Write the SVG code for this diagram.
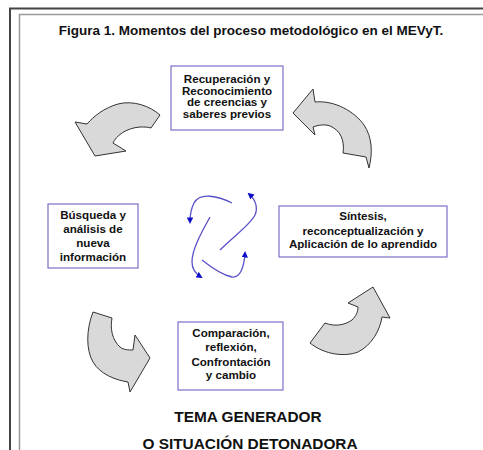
<svg xmlns="http://www.w3.org/2000/svg" width="483" height="450" viewBox="0 0 483 450">
<defs>
<style>
.t{font-family:"Liberation Sans",Arial,sans-serif;font-weight:bold;fill:#111;text-anchor:middle}
.box{fill:#fff;stroke:#7b70cc;stroke-width:1.2}
.lbl{font-size:11.6px}
.big{font-size:15.4px}
.carrow{fill:#d9d9d9;stroke:#333;stroke-width:1;stroke-linejoin:miter}
.blue{fill:none;stroke:#5a50c8;stroke-width:1.3;marker-end:url(#bh)}
</style>
<marker id="bh" viewBox="0 0 10 10" refX="7" refY="5" markerWidth="6.5" markerHeight="6.5" markerUnits="userSpaceOnUse" orient="auto">
<path d="M0,0 L10,5 L0,10 Z" fill="#1010c8"/>
</marker>
</defs>
<rect width="483" height="450" fill="#fff"/>
<g id="frame" fill="none">
<path d="M10,450 L10,8.5 L483,8.5" stroke="#444" stroke-width="2"/>
<path d="M19.5,450 L19.5,14.5 L483,14.5" stroke="#999" stroke-width="1.5"/>
</g>
<text id="title" class="t" x="251" y="35" font-size="13.5">Figura 1. Momentos del proceso metodológico en el MEVyT.</text>
<g id="connectors">
<path class="carrow" d="M160,115 C150,106 133,100 118,104 C104,108 94,116 87,124 L75,122 L95,156 L126,151 L113,143 C116,136 126,128 140,127 C145,127 148,127 151,128 Z"/>
<path class="carrow" d="M293,113 L313,89 L315,102 C335,100 355,112 364,125 C372,137 373,152 369,168 L366,157 L343,153 C345,140 340,130 330,126 C325,124 318,125 313,127 L315,135 Z"/>
<path class="carrow" d="M93,312 L112,318 C110,328 112,340 120,347 C124,350 128,350 133,350 L135,335 L150,358 L130,392 L128,382 C115,380 100,374 93,362 C86,350 86,330 93,312 Z"/>
<path class="carrow" d="M310,343 L325,323 C335,327 345,325 352,320 C356,316 358,312 358,307 L348,303 L373,287 L390,318 L382,317 C380,330 372,345 358,352 C345,357 325,355 310,343 Z"/>
<path class="blue" d="M232,203 C218,196 200,192 194,203 C191,209 190,214 190,222"/>
<path class="blue" d="M220,250 C235,235 250,225 255,215 C258,208 256,200 249,194"/>
<path class="blue" d="M210,217 C200,235 192,250 192,262 C192,270 196,274 201,277"/>
<path class="blue" d="M202,260 C212,268 222,275 232,277 C240,278 244,268 245,253"/>
</g>
<g id="node-recuperacion">
<rect class="box" x="171" y="66" width="112" height="64"/>
<text class="t lbl" x="227" y="83">Recuperación y</text>
<text class="t lbl" x="227" y="94.5">Reconocimiento</text>
<text class="t lbl" x="227" y="106">de creencias y</text>
<text class="t lbl" x="227" y="117.5">saberes previos</text>
</g>
<g id="node-busqueda">
<rect class="box" x="48" y="204" width="90" height="64"/>
<text class="t lbl" x="93" y="219">Búsqueda y</text>
<text class="t lbl" x="93" y="233">análisis de</text>
<text class="t lbl" x="93" y="247">nueva</text>
<text class="t lbl" x="93" y="261">información</text>
</g>
<g id="node-sintesis">
<rect class="box" x="279" y="206" width="168" height="51"/>
<text class="t lbl" x="363" y="220">Síntesis,</text>
<text class="t lbl" x="363" y="234.5">reconceptualización y</text>
<text class="t lbl" x="363" y="248">Aplicación de lo aprendido</text>
</g>
<g id="node-comparacion">
<rect class="box" x="178" y="322" width="105" height="68"/>
<text class="t lbl" x="231" y="337">Comparación,</text>
<text class="t lbl" x="231" y="351">reflexión,</text>
<text class="t lbl" x="231" y="365.5">Confrontación</text>
<text class="t lbl" x="231" y="379">y cambio</text>
</g>
<g id="node-tema">
<text class="t big" x="248" y="422">TEMA GENERADOR</text>
<text class="t big" x="250" y="448.5">O SITUACIÓN DETONADORA</text>
</g>
</svg>
